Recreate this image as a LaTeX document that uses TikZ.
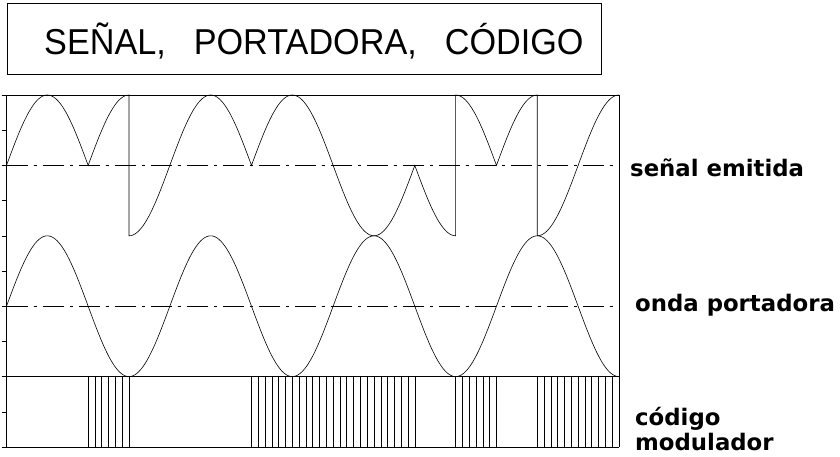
\documentclass[tikz,border=0pt]{standalone}
\usepackage{fontspec}
\setmainfont{Liberation Sans}
\newfontfamily\labelfont{DejaVu Sans}
\newfontfamily\titlefont[FakeStretch=0.95]{Liberation Sans}
\begin{document}
\begin{tikzpicture}[x=1pt,y=-1pt,
  declare function={X(\t)=6.5+40.83*\t;},
  frame/.style={line width=0.6pt,draw=black},
  wave/.style={line width=0.6pt,draw=black},
  axisline/.style={line width=0.6pt,dash pattern=on 21pt off 6pt on 3pt off 6pt},
  stripe/.style={line width=0.55pt},
  lbl/.style={font=\labelfont\bfseries\fontsize{22.8}{25}\selectfont,anchor=west,inner sep=0pt,align=left},
  ttl/.style={font=\titlefont\fontsize{36}{40}\selectfont,inner sep=0pt,anchor=west}]
\useasboundingbox (0,0) rectangle (840,457);
% title
\draw[frame] (7,3) rectangle (601,74);
\node[ttl] (title) at (44,41) {SEÑAL,\hspace{28pt}PORTADORA,\hspace{28pt}CÓDIGO};
% frame and ticks
\draw[frame] (6.5,95) -- (6.5,447);
\draw[frame] (619,95) -- (619,447);
\draw[frame] (1.5,95) -- (619,95);
\draw[frame] (1.5,376.6) -- (619,376.6);
\draw[frame] (1.5,447) -- (619,447);
\foreach \yy in {130.2,165.4,200.6,235.8,271,306.2,341.4,411.8}
  \draw[frame] (1.5,\yy) -- (6.5,\yy);
% axes
\draw[axisline] (6.5,165.4) -- (619,165.4);
\draw[axisline] (6.5,306.2) -- (619,306.2);
% carrier
\draw[wave] plot[domain=0:15,samples=301] ({X(\x)},{306.2-70.4*sin(90*\x)});
% emitted signal
\draw[wave] plot[domain=0:2,samples=41] ({X(\x)},{165.4-70.4*sin(90*\x)})
  -- plot[domain=2:3,samples=21] ({X(\x)},{165.4+70.4*sin(90*\x)})
  -- plot[domain=3:6,samples=61] ({X(\x)},{165.4-70.4*sin(90*\x)})
  -- plot[domain=6:10,samples=81] ({X(\x)},{165.4+70.4*sin(90*\x)})
  -- plot[domain=10:11,samples=21] ({X(\x)},{165.4-70.4*sin(90*\x)})
  -- plot[domain=11:12,samples=21] ({X(\x)},{165.4+70.4*sin(90*\x)})
  -- plot[domain=12:13,samples=21] ({X(\x)},{165.4-70.4*sin(90*\x)})
  -- plot[domain=13:15,samples=41] ({X(\x)},{165.4+70.4*sin(90*\x)});
% code stripes
\foreach \a/\b in {2/3,6/10,11/12,13/15}{
  \pgfmathtruncatemacro\nn{6*(\b-\a)}
  \foreach \k in {0,...,\nn}
    \draw[stripe] ({X(\a+\k/6)},376.6) -- ({X(\a+\k/6)},447);
}
% labels
\node[lbl] (senal) at (630,168) {señal emitida};
\node[lbl] (onda) at (635,305) {onda portadora};
\node[lbl] (codigo) at (635,429.5) {código\\modulador};
\end{tikzpicture}
\end{document}
